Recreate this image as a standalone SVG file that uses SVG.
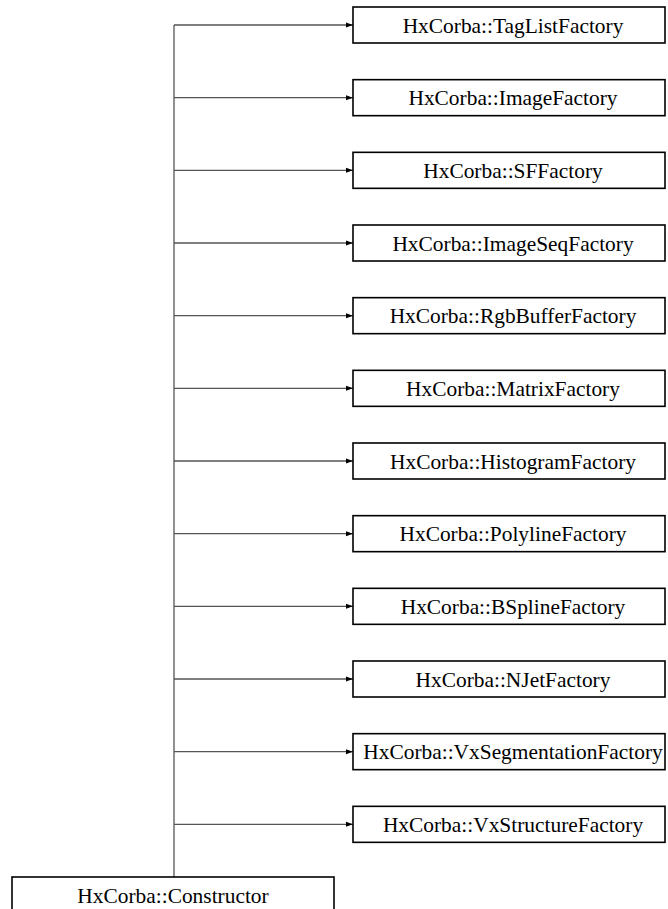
<svg xmlns="http://www.w3.org/2000/svg" width="668" height="909" viewBox="0 0 668 909">
<style>
.box{fill:#fff;stroke:#000;stroke-width:1.6}
.lbl{font-family:"Liberation Serif","Times New Roman",serif;font-size:21.4px;text-anchor:middle;fill:#000}
.edge{fill:none;stroke:#555;stroke-width:1.3}
</style>
<defs>
<marker id="ah" markerWidth="8" markerHeight="6" refX="7" refY="3" orient="auto" markerUnits="userSpaceOnUse">
<path d="M0,0.5 L7,3 L0,5.5 Z" fill="#000"/>
</marker>
</defs>
<rect width="668" height="909" fill="#fff"/>
<g id="connectors">
<path class="edge" d="M174,877 V25"/>
<path class="edge" d="M174,25 H353" marker-end="url(#ah)"/>
<path class="edge" d="M174,97.67 H353" marker-end="url(#ah)"/>
<path class="edge" d="M174,170.33 H353" marker-end="url(#ah)"/>
<path class="edge" d="M174,243 H353" marker-end="url(#ah)"/>
<path class="edge" d="M174,315.67 H353" marker-end="url(#ah)"/>
<path class="edge" d="M174,388.33 H353" marker-end="url(#ah)"/>
<path class="edge" d="M174,461 H353" marker-end="url(#ah)"/>
<path class="edge" d="M174,533.67 H353" marker-end="url(#ah)"/>
<path class="edge" d="M174,606.33 H353" marker-end="url(#ah)"/>
<path class="edge" d="M174,679 H353" marker-end="url(#ah)"/>
<path class="edge" d="M174,751.67 H353" marker-end="url(#ah)"/>
<path class="edge" d="M174,824.33 H353" marker-end="url(#ah)"/>
</g>
<g id="n1"><rect class="box" x="353" y="7" width="312" height="36"/><text class="lbl" x="513" y="32.5">HxCorba::TagListFactory</text></g>
<g id="n2"><rect class="box" x="353" y="79.67" width="312" height="36"/><text class="lbl" x="513" y="105.17">HxCorba::ImageFactory</text></g>
<g id="n3"><rect class="box" x="353" y="152.33" width="312" height="36"/><text class="lbl" x="513" y="177.83">HxCorba::SFFactory</text></g>
<g id="n4"><rect class="box" x="353" y="225" width="312" height="36"/><text class="lbl" x="513" y="250.5">HxCorba::ImageSeqFactory</text></g>
<g id="n5"><rect class="box" x="353" y="297.67" width="312" height="36"/><text class="lbl" x="513" y="323.17">HxCorba::RgbBufferFactory</text></g>
<g id="n6"><rect class="box" x="353" y="370.33" width="312" height="36"/><text class="lbl" x="513" y="395.83">HxCorba::MatrixFactory</text></g>
<g id="n7"><rect class="box" x="353" y="443" width="312" height="36"/><text class="lbl" x="513" y="468.5">HxCorba::HistogramFactory</text></g>
<g id="n8"><rect class="box" x="353" y="515.67" width="312" height="36"/><text class="lbl" x="513" y="541.17">HxCorba::PolylineFactory</text></g>
<g id="n9"><rect class="box" x="353" y="588.33" width="312" height="36"/><text class="lbl" x="513" y="613.83">HxCorba::BSplineFactory</text></g>
<g id="n10"><rect class="box" x="353" y="661" width="312" height="36"/><text class="lbl" x="513" y="686.5">HxCorba::NJetFactory</text></g>
<g id="n11"><rect class="box" x="353" y="733.67" width="312" height="36"/><text class="lbl" x="513" y="759.17">HxCorba::VxSegmentationFactory</text></g>
<g id="n12"><rect class="box" x="353" y="806.33" width="312" height="36"/><text class="lbl" x="513" y="831.83">HxCorba::VxStructureFactory</text></g>
<g id="n13"><rect class="box" x="12" y="877" width="322" height="36"/><text class="lbl" x="173" y="902.5">HxCorba::Constructor</text></g>
</svg>
